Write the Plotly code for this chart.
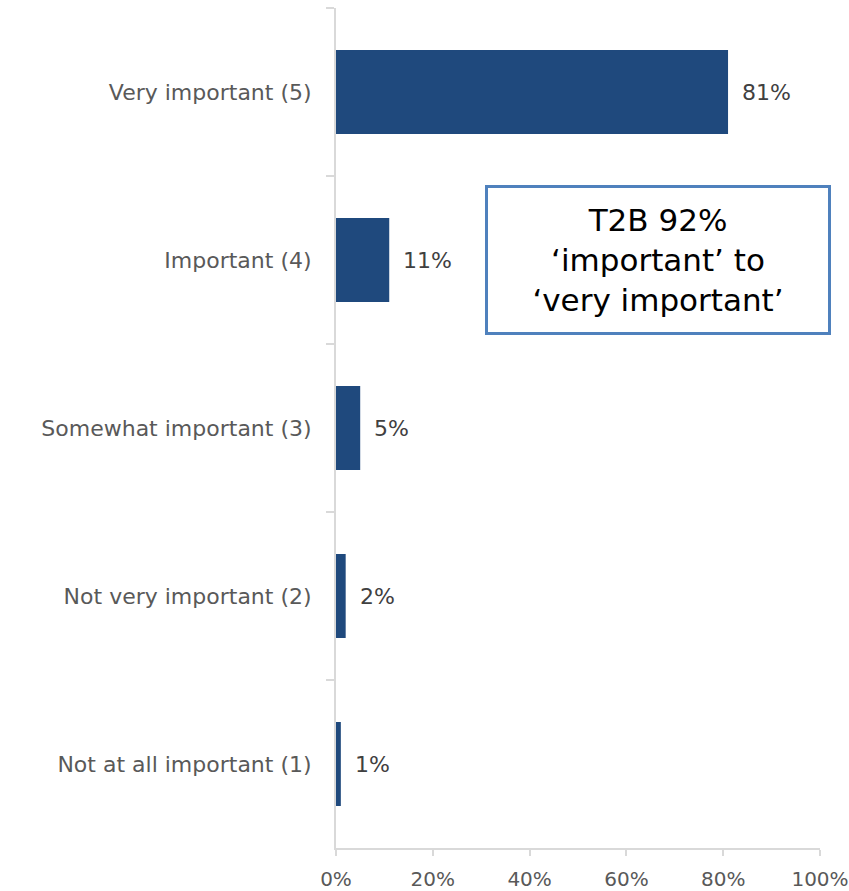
import plotly.graph_objects as go

categories = [
    "Very important (5)",
    "Important (4)",
    "Somewhat important (3)",
    "Not very important (2)",
    "Not at all important (1)",
]
values = [81, 11, 5, 2, 1]
x_ticks = [0, 20, 40, 60, 80, 100]
x_tick_labels = ["0%", "20%", "40%", "60%", "80%", "100%"]
callout_lines = ["T2B 92%", "‘important’ to", "‘very important’"]

FONT = "DejaVu Sans, sans-serif"
BAR_COLOR = "#1f497d"
AXIS_COLOR = "#d9d9d9"

fig = go.Figure(
    go.Bar(
        x=values,
        y=categories,
        orientation="h",
        marker=dict(color=BAR_COLOR, line=dict(width=0)),
        width=0.5,
        hoverinfo="skip",
    )
)

# value labels placed just right of each bar end
for cat, v in zip(categories, values):
    fig.add_annotation(
        x=v, y=cat, xref="x", yref="y",
        text=f"{v}%", showarrow=False,
        xanchor="left", xshift=12,
        font=dict(family=FONT, size=22, color="#404040"),
    )

# callout box, anchored in data space so it does not push the margins
fig.add_annotation(
    x=66.5, y="Important (4)", xref="x", yref="y",
    yshift=0,
    text="<br>".join(callout_lines), showarrow=False,
    xanchor="center", yanchor="middle",
    width=336, height=140, align="center",
    bordercolor="#4f81bd", borderwidth=3, borderpad=2,
    bgcolor="white",
    font=dict(family=FONT, size=31, color="#000000"),
)

fig.update_layout(
    width=849, height=891,
    margin=dict(l=336, r=29, t=8, b=43, autoexpand=False),
    paper_bgcolor="white", plot_bgcolor="white",
    showlegend=False,
    bargap=0.5,
)

fig.update_xaxes(
    range=[0, 100],
    tickvals=x_ticks, ticktext=x_tick_labels,
    showgrid=False, zeroline=False,
    showline=True, linecolor=AXIS_COLOR, linewidth=2,
    ticks="outside", tickcolor=AXIS_COLOR, ticklen=6, tickwidth=2,
    ticklabelstandoff=6, ticklabeloverflow="allow",
    tickfont=dict(family=FONT, size=20, color="#595959"),
    automargin=False, fixedrange=True,
)
fig.update_yaxes(
    categoryorder="array", categoryarray=categories,
    autorange="reversed",
    showgrid=False, zeroline=False,
    showline=True, linecolor=AXIS_COLOR, linewidth=2,
    ticks="outside", tickson="boundaries",
    tickcolor=AXIS_COLOR, ticklen=8, tickwidth=2,
    ticklabelstandoff=18,
    tickfont=dict(family=FONT, size=22, color="#595959"),
    automargin=False, fixedrange=True,
)

fig.write_html("out.html")
